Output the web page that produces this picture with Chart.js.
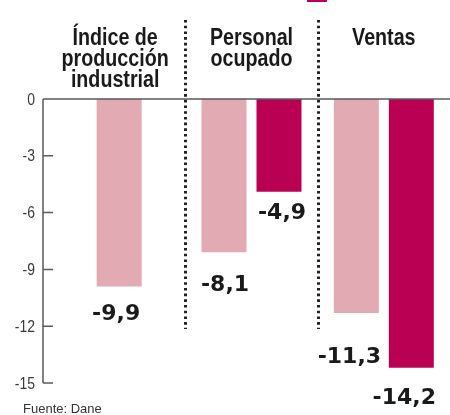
<!DOCTYPE html>
<html>
<head>
<meta charset="utf-8">
<script src="https://cdn.jsdelivr.net/npm/chart.js@4"></script>
<style>
  html, body { margin: 0; padding: 0; background: #fff; }
  #wrap { width: 450px; height: 415px; position: relative; }
</style>
</head>
<body>
<div id="wrap"><canvas id="industryChart"></canvas></div>
<script>
var categories = [["Índice de", "producción", "industrial"], ["Personal", "ocupado"], ["Ventas"]];
var pinkValues = [-9.9, -8.1, -11.3];
var darkValues = [null, -4.9, -14.2];
var yTicks = [0, -3, -6, -9, -12, -15];
var sourceText = "Fuente: Dane";

var pinkColor = "#e2aab2";
var darkColor = "#ba0052";

// nudges for the value labels: [dx, baseline distance below bar end]
var labelShift = [
  [[-3, 34], [1, 39], [-7, 50]],
  [null, [3, 27], [-7, 36]]
];

function fmt(v) {
  return v.toFixed(1).replace(".", ",");
}

// narrow text: regular sans squeezed horizontally
function narrowText(ctx, text, x, y, squeeze) {
  ctx.save();
  ctx.translate(x, y);
  ctx.scale(squeeze, 1);
  ctx.fillText(text, 0, 0);
  ctx.restore();
}

var decorPlugin = {
  id: "decor",
  afterDraw: function (chart) {
    var ctx = chart.ctx;
    var area = chart.chartArea;
    var x = chart.scales.x;
    var y = chart.scales.y;
    var axisX = area.left - 10;
    ctx.save();

    // separators between groups
    ctx.strokeStyle = "#222";
    ctx.lineWidth = 3;
    ctx.setLineDash([2.6, 3.1]);
    for (var i = 0; i < categories.length - 1; i++) {
      var sx = Math.round((x.getPixelForValue(i) + x.getPixelForValue(i + 1)) / 2) + 0.5;
      ctx.beginPath();
      ctx.moveTo(sx, 20);
      ctx.lineTo(sx, 329);
      ctx.stroke();
    }
    ctx.setLineDash([]);

    // y axis line, inner ticks and zero line
    ctx.strokeStyle = "#5a5a5a";
    ctx.lineWidth = 1.5;
    ctx.beginPath();
    ctx.moveTo(axisX, y.getPixelForValue(0));
    ctx.lineTo(axisX, y.getPixelForValue(-15));
    yTicks.forEach(function (t) {
      var py = y.getPixelForValue(t);
      ctx.moveTo(axisX, py);
      ctx.lineTo(t === 0 ? chart.width : axisX + 10, py);
    });
    ctx.stroke();

    // tick labels
    ctx.fillStyle = "#3a3a3a";
    ctx.font = "17px 'Liberation Sans', sans-serif";
    ctx.textAlign = "right";
    ctx.textBaseline = "middle";
    yTicks.forEach(function (t) {
      narrowText(ctx, String(t), 35, y.getPixelForValue(t) + 1, 0.82);
    });

    // group titles
    ctx.fillStyle = "#1a1a1a";
    ctx.font = "bold 24px 'Liberation Sans', sans-serif";
    ctx.textAlign = "center";
    ctx.textBaseline = "alphabetic";
    categories.forEach(function (lines, i) {
      var cx = x.getPixelForValue(i) - (i === 0 ? 4 : 0);
      lines.forEach(function (line, j) {
        narrowText(ctx, line, cx, 45 + j * 21, 0.82);
      });
    });

    // value labels
    ctx.font = "bold 22px 'DejaVu Sans', sans-serif";
    chart.data.datasets.forEach(function (ds, di) {
      var meta = chart.getDatasetMeta(di);
      ds.data.forEach(function (v, k) {
        if (v === null) return;
        var bar = meta.data[k];
        var sh = labelShift[di][k];
        ctx.fillText(fmt(v), bar.x + sh[0], bar.y + sh[1]);
      });
    });

    // legend swatch cut at the top edge
    ctx.fillStyle = darkColor;
    ctx.fillRect(307, -8, 20, 10);

    // source
    ctx.fillStyle = "#333";
    ctx.textAlign = "left";
    ctx.font = "13px 'Liberation Sans', sans-serif";
    ctx.fillText(sourceText, 23, 413);

    ctx.restore();
  }
};

new Chart(document.getElementById("industryChart").getContext("2d"), {
  type: "bar",
  data: {
    labels: categories,
    datasets: [
      {
        label: "pink",
        data: pinkValues,
        backgroundColor: pinkColor,
        barPercentage: 0.818,
        categoryPercentage: 0.831,
        maxBarThickness: 45
      },
      {
        label: "dark",
        data: darkValues,
        backgroundColor: darkColor,
        barPercentage: 0.818,
        categoryPercentage: 0.831,
        maxBarThickness: 45
      }
    ]
  },
  options: {
    responsive: true,
    maintainAspectRatio: false,
    animation: false,
    skipNull: true,
    layout: { padding: { top: 99, bottom: 32, left: 0, right: 0 } },
    plugins: {
      legend: { display: false },
      tooltip: { enabled: false }
    },
    scales: {
      x: { display: false },
      y: {
        min: -15,
        max: 0,
        afterFit: function (scale) { scale.width = 53; },
        afterBuildTicks: function (scale) {
          scale.ticks = yTicks.map(function (v) { return { value: v }; });
        },
        grid: { display: false, drawTicks: false },
        border: { display: false },
        ticks: { display: false }
      }
    }
  },
  plugins: [decorPlugin]
});
</script>
</body>
</html>
